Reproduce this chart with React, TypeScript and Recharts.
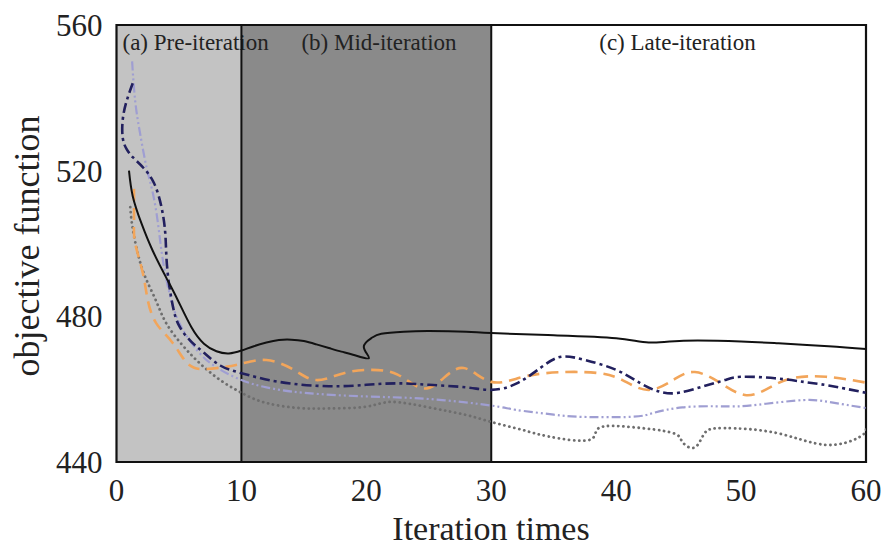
import React from 'react';
import { LineChart, Line, XAxis, YAxis, ReferenceArea, ReferenceLine, Label } from 'recharts';

const xTicks = [0, 10, 20, 30, 40, 50, 60];
const yTicks = [440, 480, 520, 560];

// iteration stages
const stageStart = [0, 10, 30];
const stageEnd = [10, 30, 60];
const stageNames = ['(a) Pre-iteration', '(b) Mid-iteration', '(c) Late-iteration'];

// black solid
const solidX = [1, 1.3, 2, 2.9, 4, 4.9, 6, 7, 8, 9, 10, 11, 12, 13, 14, 15, 16, 17, 18, 19, 20.2, 19.8, 20.4, 21.2, 23, 25, 28, 30, 35, 40, 42.6, 45.4, 50, 53, 57, 60];
const solidY = [520, 513, 505.5, 498, 490.5, 484.5, 477, 472.5, 470.4, 469.8, 470.6, 471.8, 472.8, 473.5, 473.6, 473.2, 472.3, 471.3, 470.3, 469.4, 468.5, 471.5, 474, 475.2, 475.8, 476, 475.8, 475.4, 474.8, 474, 472.8, 473.3, 473.1, 472.6, 471.8, 471];

// dark blue dash-dot
const navyX = [1.3, 0.8, 0.5, 0.5, 0.8, 1.3, 2.1, 3.0, 3.6, 3.9, 4.0, 4.2, 4.5, 5, 6, 7, 8.3, 10, 13, 17, 20, 22.5, 25, 28, 30, 32, 34, 35.6, 37.5, 40, 42, 43.5, 45, 47, 48.7, 50, 52.7, 55, 57, 60];
const navyY = [544, 539, 534, 529, 526, 523.7, 521, 516.6, 510, 503, 496, 489, 483, 477.5, 473, 470, 466.5, 464.4, 462, 460.8, 461.2, 461.6, 461.2, 460.5, 459.8, 461.5, 466, 468.9, 468, 465.3, 461.5, 459.3, 459, 460.8, 462.5, 463.4, 463, 462, 461, 459];

// lavender dash-dot-dot
const lilacX = [1.25, 1.5, 1.9, 2.4, 2.9, 3.3, 3.6, 4.0, 4.5, 5.2, 6.5, 8, 10, 12, 15, 20, 25, 30, 32, 35, 37.2, 41.2, 43, 45.3, 48, 50, 52, 55, 57, 60];
const lilacY = [550, 539, 530, 521, 514, 506, 498, 490, 483, 477, 470.5, 466, 462.5, 460.5, 459, 458, 457.3, 455.5, 454.3, 453, 452.4, 452.4, 453.5, 455, 455.3, 455.3, 456, 457, 456.5, 454.8];

// orange dashed
const orangeX = [1.4, 1.4, 1.5, 2.1, 2.5, 3.2, 4.5, 5.7, 7, 8.5, 10, 12, 14.2, 16, 18.2, 20.4, 22.5, 24.4, 26, 27.8, 30, 32.7, 35.9, 38.6, 40.5, 42.6, 44.7, 46.3, 48.2, 50.3, 52.2, 54.1, 56.8, 60];
const orangeY = [515, 506, 500, 492, 484.5, 478, 472.7, 467, 465.5, 466, 467, 468, 465.3, 462.5, 464.4, 465.3, 464, 460.3, 462.5, 465.8, 462, 463.5, 464.7, 464.4, 462.5, 459.8, 462.8, 464.7, 462, 458.4, 460.3, 463, 463.4, 461.8];

// grey dotted
const dottedX = [1.1, 1.3, 1.8, 2.4, 3.2, 4, 5.3, 6.7, 8.3, 10, 12, 14.7, 17, 20, 22, 25, 28, 30, 32.5, 34.6, 37.8, 38.6, 41.2, 44.5, 45.3, 46.3, 47.1, 48.7, 52.8, 56.8, 59.5, 60];
const dottedY = [510, 504, 496, 490, 484, 478, 472, 467, 462.5, 459, 456.2, 454.8, 454.7, 455.2, 456.5, 455, 452.9, 451, 448.8, 447, 446, 449.3, 449.6, 448, 445.5, 444, 448, 449.3, 448, 444.7, 446.9, 449];

const toPoints = (xs: number[], ys: number[]) => xs.map((x, i) => ({ x, y: ys[i] }));

const serif = '"Liberation Serif", "DejaVu Serif", serif';
const stageFills = ['#c3c3c3', '#8a8a8a', '#ffffff'];
const stageLabelDx = [6, 60, 108];

const App = () => {
  return (
    <div style={{ position: 'absolute', left: 0, top: 0, background: '#fff' }}>
      <LineChart width={885} height={547} margin={{ top: 25, right: 19, bottom: 0, left: 0 }}>
        <XAxis
          type="number"
          dataKey="x"
          domain={[0, 60]}
          ticks={xTicks}
          interval={0}
          allowDataOverflow
          height={85}
          axisLine={false}
          tickLine={false}
          tickSize={6}
          tickMargin={11}
          tick={{ fontSize: 31, fill: '#222', fontFamily: serif }}
        >
          <Label
            content={() => (
              <text x={491} y={540} textAnchor="middle" fontSize={34} fill="#222" fontFamily={serif}>
                Iteration times
              </text>
            )}
          />
        </XAxis>
        <YAxis
          type="number"
          domain={[440, 560]}
          ticks={yTicks}
          interval={0}
          allowDataOverflow
          width={116.5}
          axisLine={false}
          tickLine={false}
          tickSize={6}
          tickMargin={8}
          tick={{ fontSize: 31, fill: '#222', fontFamily: serif }}
        >
          <Label
            content={() => (
              <text x={39} y={246} transform="rotate(-90 39 246)" textAnchor="middle" fontSize={36} fill="#222" fontFamily={serif}>
                objective function
              </text>
            )}
          />
        </YAxis>
        {stageNames.map((name, i) => (
          <ReferenceArea
            key={'bg' + name}
            x1={stageStart[i]}
            x2={stageEnd[i]}
            y1={440}
            y2={560}
            fill={stageFills[i]}
            fillOpacity={1}
            stroke="none"
          />
        ))}
        <ReferenceLine x={10} stroke="#111" strokeWidth={2} />
        <ReferenceLine x={30} stroke="#111" strokeWidth={2} />
        <Line data={toPoints(lilacX, lilacY)} dataKey="y" type="natural" stroke="#9f9ed2" strokeWidth={2.2} strokeDasharray="9 3 2 3 2 3" dot={false} activeDot={false} isAnimationActive={false} />
        <Line data={toPoints(dottedX, dottedY)} dataKey="y" type="natural" stroke="#6e6e6e" strokeWidth={2.8} strokeDasharray="0.1 5" strokeLinecap="round" dot={false} activeDot={false} isAnimationActive={false} />
        <Line data={toPoints(orangeX, orangeY)} dataKey="y" type="natural" stroke="#f2a55a" strokeWidth={2.6} strokeDasharray="12 7" dot={false} activeDot={false} isAnimationActive={false} />
        <Line data={toPoints(navyX, navyY)} dataKey="y" type="natural" stroke="#22205e" strokeWidth={2.6} strokeDasharray="10 4 3 4" dot={false} activeDot={false} isAnimationActive={false} />
        <Line data={toPoints(solidX, solidY)} dataKey="y" type="natural" stroke="#111" strokeWidth={2} dot={false} activeDot={false} isAnimationActive={false} />
        {stageNames.map((name, i) => (
          <ReferenceArea
            key={'lbl' + name}
            x1={stageStart[i]}
            x2={stageEnd[i]}
            y1={440}
            y2={560}
            fill="none"
            fillOpacity={0}
            stroke="none"
            label={(p: any) => (
              <text x={p.viewBox.x + stageLabelDx[i]} y={p.viewBox.y + 25} fontSize={23} fill="#222" fontFamily={serif}>
                {name}
              </text>
            )}
          />
        ))}
        <ReferenceArea x1={0} x2={60} y1={440} y2={560} fill="none" fillOpacity={0} stroke="#111" strokeWidth={2.2} />
      </LineChart>
    </div>
  );
};

export default App;
